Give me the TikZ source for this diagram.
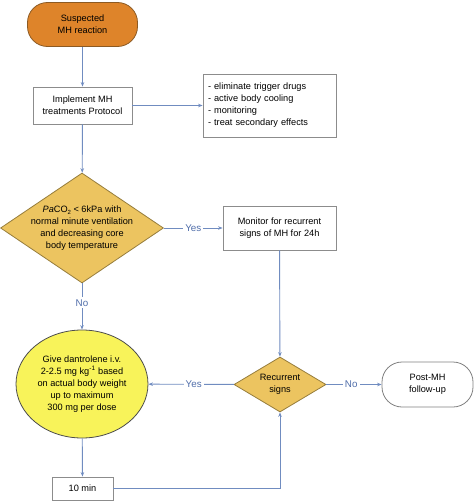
\documentclass[tikz,border=0pt]{standalone}
\usepackage{fontspec}
\setmainfont{Liberation Sans}
\usetikzlibrary{shapes.geometric,arrows.meta}
\definecolor{startor}{RGB}{222,132,42}
\definecolor{startedge}{RGB}{140,90,35}
\definecolor{diafill}{RGB}{236,196,96}
\definecolor{diaedge}{RGB}{150,125,60}
\definecolor{ellfill}{RGB}{248,243,90}
\definecolor{arrowc}{RGB}{112,140,192}
\definecolor{labc}{RGB}{80,110,170}
\definecolor{boxedge}{RGB}{140,140,140}
\begin{document}
\begin{tikzpicture}[x=1pt,y=-1pt,
  font=\fontsize{9.2}{12}\selectfont,
  box/.style={draw=boxedge, line width=0.8pt, fill=white, align=center, inner sep=0pt},
  startbox/.style={box, fill=startor, draw=startedge, rounded corners=20pt},
  endbox/.style={box, draw=gray, rounded corners=20pt},
  dia/.style={diamond, draw=diaedge, line width=0.8pt, fill=diafill, inner sep=0pt},
  ell/.style={ellipse, draw=black!70, line width=0.8pt, fill=ellfill, inner sep=0pt},
  conn/.style={draw=arrowc, line width=0.9pt, -{Stealth[length=4.5pt,width=3.5pt]}},
  lab/.style={fill=white, text=labc, inner sep=2pt, font=\fontsize{9.8}{12}\selectfont}
]
\useasboundingbox (0,0) rectangle (474,503);

\node[startbox, minimum width=110pt, minimum height=44pt] (start) at (82.5,24.5) {Suspected\\MH reaction};
\node[box, minimum width=99pt, minimum height=37pt] (impl) at (82.5,105.5) {Implement MH\\treatments Protocol};
\node[box, minimum width=133pt, minimum height=63pt, align=left, text width=123pt] (list) at (269.5,105.5)
  {- eliminate trigger drugs\\- active body cooling\\- monitoring\\- treat secondary effects};
\node[dia, minimum width=163pt, minimum height=110pt,
  label={[align=center]center:\textit{Pa}CO\raisebox{-0.45ex}{\fontsize{6}{6}\selectfont 2} < 6kPa with\\normal minute ventilation\\and decreasing core\\body temperature}] (d1) at (82,228) {};
\node[box, minimum width=113pt, minimum height=44pt] (mon) at (279.5,228) {Monitor for recurrent\\signs of MH for 24h};
\node[ell, minimum width=132pt, minimum height=108pt,
  label={[align=center]center:Give dantrolene i.v.\\2-2.5 mg kg\textsuperscript{-1} based\\on actual body weight\\up to maximum\\300 mg per dose}] (ell) at (82,384) {};
\node[dia, minimum width=92pt, minimum height=55pt,
  label={[align=center]center:Recurrent\\signs}] (d2) at (280,384.5) {};
\node[endbox, minimum width=91pt, minimum height=45pt] (post) at (427.5,384.5) {Post-MH\\follow-up};
\node[box, minimum width=61pt, minimum height=23pt] (ten) at (82.5,488.5) {10 min};

\draw[conn] (start) -- (impl);
\draw[conn] (impl) -- (list);
\draw[conn] (impl) -- (d1);
\draw[conn] (d1) -- node[lab]{Yes} (mon);
\draw[conn] (d1) -- node[lab, pos=0.42]{No} (ell);
\draw[conn] (mon) -- (d2);
\draw[conn] (d2) -- node[lab, pos=0.47]{Yes} (ell);
\draw[conn] (d2) -- node[lab, pos=0.45]{No} (post);
\draw[conn] (ell) -- (ten);
\draw[conn] (ten) -| (d2);
\end{tikzpicture}
\end{document}
